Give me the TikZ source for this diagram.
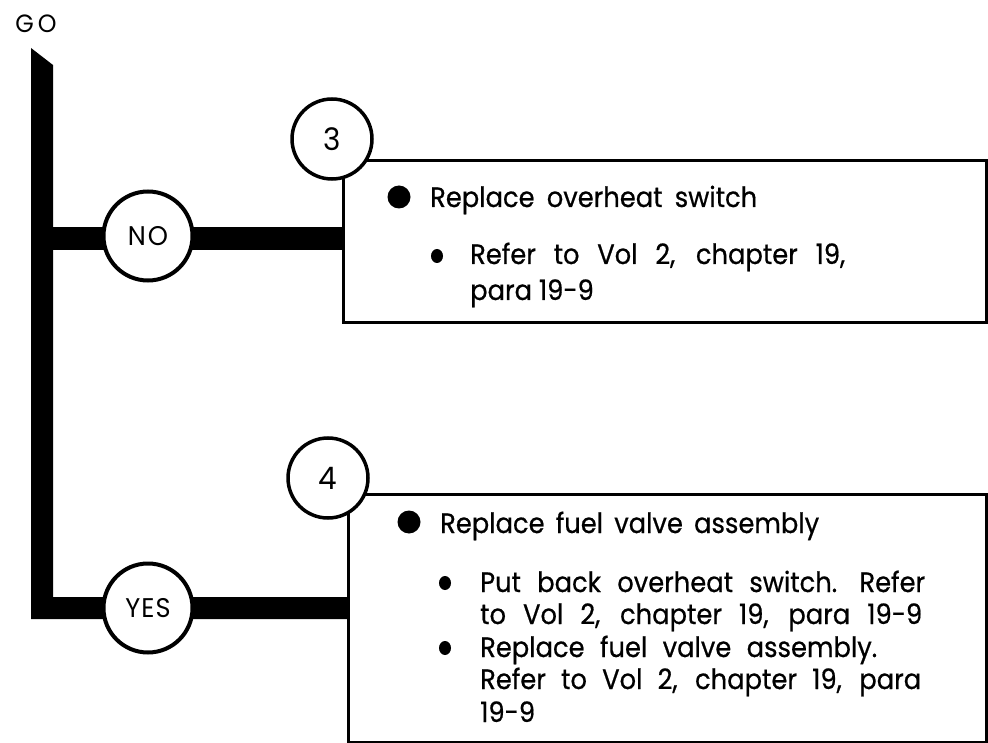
\documentclass[tikz,border=0pt]{standalone}
\usepackage{fontspec}
\usetikzlibrary{shapes.geometric}
\setmainfont{Poppins}
\newfontfamily\bodyfont[FakeBold=0.6,FakeStretch=0.92]{Poppins}
\newfontfamily\labfont[FakeStretch=0.95]{Poppins}
\newcommand\bodysize{\bodyfont\fontsize{28}{28}\selectfont}
\newcommand\fitline[2]{\hbox to #1pt{\spaceskip=6pt plus 1fill\relax #2}}
\begin{document}
\begin{tikzpicture}[x=1pt,y=-1pt,
  flowbox/.style={draw, line width=3pt, inner sep=0pt, anchor=north west},
  label/.style={circle, draw, line width=4pt, fill=white, minimum size=89pt, inner sep=0pt, font=\labfont\fontsize{27}{27}\selectfont},
  num/.style={circle, draw, line width=3.5pt, fill=white, minimum size=80pt, inner sep=0pt, font=\labfont\fontsize{31}{31}\selectfont},
  bigdot/.style={circle, fill=black, minimum size=23pt, inner sep=0pt},
  smalldot/.style={ellipse, fill=black, minimum width=12pt, minimum height=14pt, inner sep=0pt},
  txt/.style={anchor=base west, inner sep=0pt, font=\bodysize}]
\useasboundingbox (0,0) rectangle (988,743);
% GO
\node[font=\labfont\fontsize{25}{25}\selectfont, inner sep=0pt] (go) at (36,24) {G\kern4pt O};
% boxes
\node[flowbox, minimum width=643pt, minimum height=162pt] (box1) at (342,159) {};
\node[flowbox, minimum width=638pt, minimum height=248pt] (box2) at (347,493) {};
% trunk + yes branch
\coordinate (trunktop) at (31,48);
\fill (trunktop) -- (53,65) -- (53,597) -- (box2.west |- 0,597) -- (box2.west |- 0,619) -- (31,619) -- cycle;
% no branch
\fill (53,227) rectangle (box1.west |- 0,250);
% circles
\node[label] (no) at (148,236) {N\kern2pt O};
\node[label] (yes) at (148,608) {Y\kern1pt E\kern1pt S};
\node[num] (n3) at (332,139) {3};
\node[num] (n4) at (328,478) {4};
% box 1 text
\node[bigdot] (b1) at (399,197) {};
\node[txt] (t1) at (430,207) {\fitline{327}{Replace overheat switch}};
\node[smalldot] (s1) at (437,256) {};
\node[txt] (t2) at (470,264) {\fitline{375}{Refer to Vol 2, chapter 19,}};
\node[txt] (t3) at (470,300) {para 19-9};
% box 2 text
\node[bigdot] (b2) at (409,522) {};
\node[txt] (u1) at (440,533) {\fitline{379}{Replace fuel valve assembly}};
\node[smalldot] (s2) at (445,583) {};
\node[txt] (u2) at (480,592) {\fitline{445}{Put back overheat switch.\hspace{12pt plus 1fill}Refer}};
\node[txt] (u3) at (480,624) {\fitline{442}{to Vol 2, chapter 19, para 19-9}};
\node[smalldot] (s3) at (445,648) {};
\node[txt] (u4) at (480,657) {\fitline{397}{Replace fuel valve assembly.}};
\node[txt] (u5) at (480,689) {\fitline{441}{Refer to Vol 2, chapter 19, para}};
\node[txt] (u6) at (480,722) {19-9};
\end{tikzpicture}
\end{document}
